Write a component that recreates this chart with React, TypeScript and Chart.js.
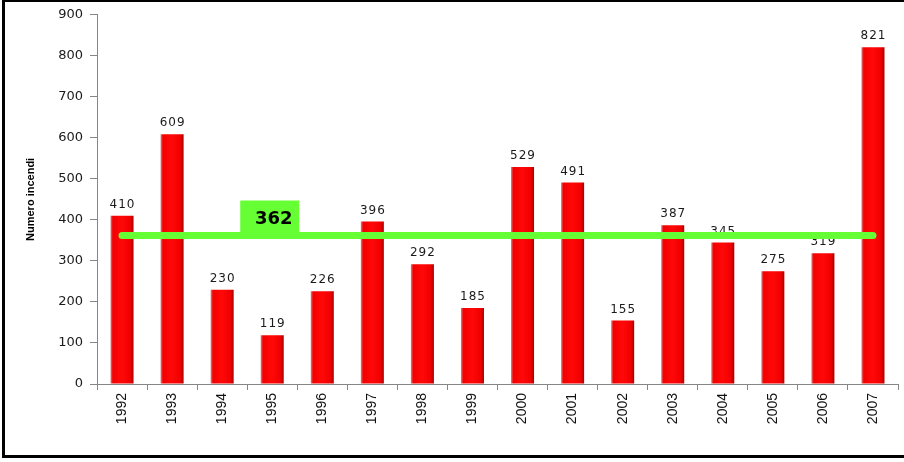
import React, { useEffect, useRef } from "react";
import { Chart, registerables } from "chart.js";

Chart.register(...registerables);

const years = ["1992","1993","1994","1995","1996","1997","1998","1999","2000","2001","2002","2003","2004","2005","2006","2007"];
const fires = [410, 609, 230, 119, 226, 396, 292, 185, 529, 491, 155, 387, 345, 275, 319, 821];
const meanValue = 362;
const yAxisTitle = "Numero incendi";

const valueLabelsPlugin = {
  id: "valueLabels",
  afterDatasetsDraw(chart: any) {
    const { ctx } = chart;
    const meta = chart.getDatasetMeta(0);
    ctx.save();
    ctx.font = "12px 'DejaVu Sans'";
    try { (ctx as any).letterSpacing = "1px"; } catch (e) {}
    ctx.fillStyle = "#1a1a1a";
    ctx.textAlign = "center";
    ctx.textBaseline = "bottom";
    meta.data.forEach((bar: any, i: number) => {
      ctx.fillText(String(fires[i]), bar.x + 0.5, bar.y - 5);
    });
    ctx.restore();
  },
};

const meanLinePlugin = {
  id: "meanLine",
  afterDraw(chart: any) {
    const { ctx, scales } = chart;
    const xs = scales.x;
    const ys = scales.y;
    const y = ys.getPixelForValue(meanValue);
    const x0 = xs.getPixelForValue(0);
    const x1 = xs.getPixelForValue(years.length - 1);
    ctx.save();
    const bx = xs.getPixelForValue(3) - 32;
    const bw = 59;
    const bh = 36;
    ctx.fillStyle = "#66ff33";
    ctx.fillRect(bx, y - bh + 1, bw, bh);
    ctx.strokeStyle = "#66ff33";
    ctx.lineWidth = 7;
    ctx.lineCap = "round";
    ctx.beginPath();
    ctx.moveTo(x0, y);
    ctx.lineTo(x1, y);
    ctx.stroke();
    ctx.fillStyle = "#000";
    ctx.font = "bold 18px 'DejaVu Sans'";
    ctx.textAlign = "center";
    ctx.textBaseline = "middle";
    ctx.fillText(String(meanValue), bx + bw / 2 + 4, y - 16);
    ctx.restore();
  },
};

export default function App() {
  const ref = useRef<HTMLCanvasElement>(null);

  useEffect(() => {
    document.body.style.margin = "0";
    const canvas = ref.current!;
    const chart = new Chart(canvas, {
      type: "bar",
      data: {
        labels: years,
        datasets: [
          {
            data: fires,
            barPercentage: 0.46,
            categoryPercentage: 1,
            backgroundColor: (c: any) => {
              const ch = c.chart;
              if (!ch.chartArea || !ch.scales.x) return "#ff0000";
              const x = ch.scales.x.getPixelForValue(c.dataIndex);
              const g = ch.ctx.createLinearGradient(x - 11.5, 0, x + 11.5, 0);
              g.addColorStop(0, "#d88080");
              g.addColorStop(0.1, "#f40000");
              g.addColorStop(0.5, "#ff0808");
              g.addColorStop(0.85, "#f00000");
              g.addColorStop(1, "#a80000");
              return g;
            },
            borderWidth: 0,
          },
        ],
      },
      options: {
        responsive: false,
        animation: false,
        layout: { padding: { top: 14, right: 6, bottom: 0, left: 20 } },
        plugins: { legend: { display: false }, tooltip: { enabled: false } },
        scales: {
          x: {
            afterFit: (s: any) => { s.height = 78; },
            grid: { display: true, drawOnChartArea: false, drawTicks: true, tickLength: 6, color: "#868686", offset: true },
            border: { display: true, color: "#868686", width: 1 },
            ticks: {
              maxRotation: 90,
              minRotation: 90,
              padding: 3,
              color: "#111",
              font: { family: "'Liberation Sans'", size: 14 },
            },
          },
          y: {
            min: 0,
            max: 900,
            afterFit: (s: any) => { s.width = 77; },
            grid: { display: true, drawOnChartArea: false, drawTicks: true, tickLength: 7, color: "#868686" },
            border: { display: true, color: "#868686", width: 1 },
            ticks: {
              stepSize: 100,
              padding: 7,
              color: "#1a1a1a",
              font: { family: "'DejaVu Sans'", size: 13 },
            },
            title: {
              display: true,
              text: yAxisTitle,
              color: "#000",
              padding: { top: 4, bottom: 0 },
              font: { family: "'Liberation Sans'", size: 11, weight: "bold" },
            },
          },
        },
      },
      plugins: [valueLabelsPlugin, meanLinePlugin],
    });
    return () => chart.destroy();
  }, []);

  return (
    <div style={{ position: "relative", width: 904, height: 462, overflow: "hidden", background: "#fff" }}>
      <canvas ref={ref} width={904} height={462} style={{ position: "absolute", left: 0, top: 0 }} />
      <div
        style={{
          position: "absolute",
          left: 2,
          top: -1,
          width: 920,
          height: 459,
          boxSizing: "border-box",
          border: "3px solid #000",
          pointerEvents: "none",
        }}
      />
    </div>
  );
}
